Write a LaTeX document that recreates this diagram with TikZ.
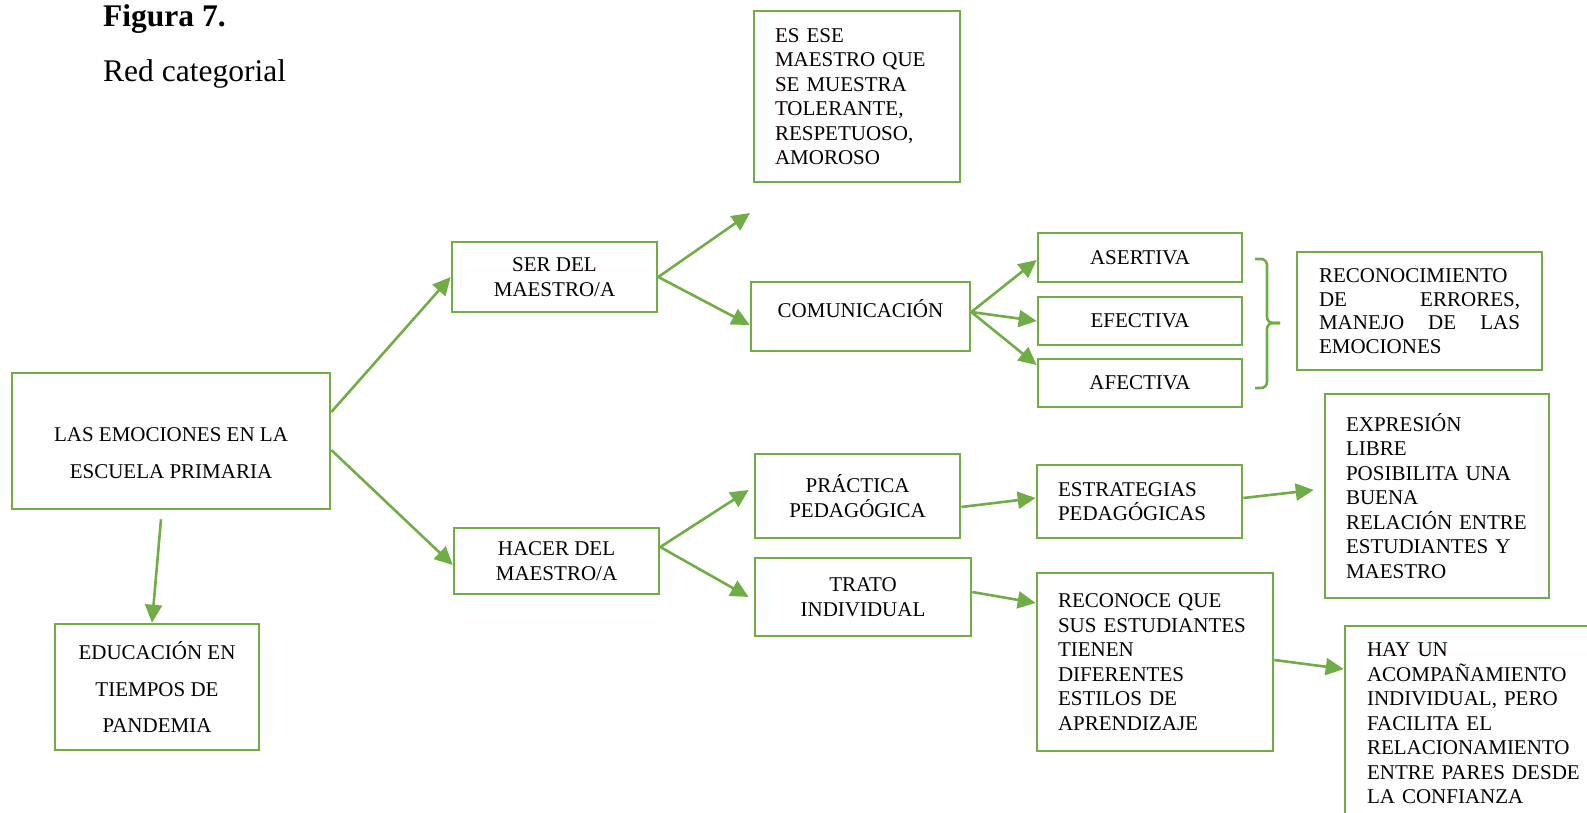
\documentclass[tikz,border=0pt]{standalone}
\usepackage{fontspec}
\setmainfont{Liberation Serif}
\usetikzlibrary{arrows.meta}
\definecolor{grn}{HTML}{70AD47}
\begin{document}
\begin{tikzpicture}[x=1pt,y=-1pt,
  box/.style={draw=grn, line width=2.6pt, inner sep=0pt, align=center,
    font=\fontsize{21}{24.5}\selectfont},
  lbox/.style={box, align=left},
  plain/.style={inner sep=0pt, align=center},
  arr/.style={draw=grn, line width=2.6pt, -{Triangle[length=18pt,width=17pt]}},
  brace/.style={draw=grn, line width=2.6pt, rounded corners=6pt}
]
\useasboundingbox (0,0) rectangle (1587,812);
\clip (0,0) rectangle (1587,812);

% title
\node[anchor=base west, inner sep=0pt, font=\fontsize{31.5}{37}\selectfont\bfseries] (fig) at (103,26) {Figura 7.};
\node[anchor=base west, inner sep=0pt, font=\fontsize{31.5}{37}\selectfont] (sub) at (103,81) {Red categorial};

% boxes
\node[box, minimum width=318pt, minimum height=136pt] (main) at (171,441) {};
\node[plain, font=\fontsize{21}{37}\selectfont] (maint) at (171,453.5) {LAS EMOCIONES EN LA\\ESCUELA PRIMARIA};
\node[box, minimum width=204pt, minimum height=126pt, font=\fontsize{21}{36.5}\selectfont] (edu) at (157,687) {EDUCACIÓN EN\\TIEMPOS DE\\PANDEMIA};
\node[box, minimum width=205pt, minimum height=70pt] (ser) at (554.5,277) {SER DEL\\MAESTRO/A};
\node[box, minimum width=205pt, minimum height=66pt] (hacer) at (556.5,561) {HACER DEL\\MAESTRO/A};
\node[lbox, minimum width=206pt, minimum height=171pt, text width=164pt] (esese) at (857,96.5) {ES~ESE\\MAESTRO~QUE\\SE~MUESTRA\\TOLERANTE,\\RESPETUOSO,\\AMOROSO};
\node[box, minimum width=219pt, minimum height=69pt, text height=13.9pt, text depth=11pt] (comm) at (860.5,316.5) {COMUNICACIÓN};
\node[box, minimum width=204pt, minimum height=49pt] (asert) at (1140,257.5) {ASERTIVA};
\node[box, minimum width=204pt, minimum height=48pt] (efec) at (1140,321) {EFECTIVA};
\node[box, minimum width=204pt, minimum height=48pt] (afec) at (1140,383) {AFECTIVA};
\node[lbox, minimum width=245pt, minimum height=118pt, text width=201pt, font=\fontsize{21}{23.7}\selectfont] (recon) at (1419.5,311) {RECONOCIMIENTO\\DE\hfill ERRORES,\\MANEJO\hfill DE\hfill LAS\\EMOCIONES};
\node[box, minimum width=205pt, minimum height=84pt] (prac) at (857.5,496) {PRÁCTICA\\PEDAGÓGICA};
\node[box, minimum width=216pt, minimum height=78pt] (trato) at (863,597) {TRATO\\INDIVIDUAL};
\node[lbox, minimum width=205pt, minimum height=73pt, text width=163pt] (estr) at (1139.5,501.5) {ESTRATEGIAS\\PEDAGÓGICAS};
\node[lbox, minimum width=236pt, minimum height=178pt, text width=194pt] (rcq) at (1155,662) {RECONOCE~QUE\\SUS~ESTUDIANTES\\TIENEN\\DIFERENTES\\ESTILOS~DE\\APRENDIZAJE};
\node[lbox, minimum width=224pt, minimum height=204pt, text width=182pt] (expr) at (1437,496) {EXPRESIÓN\\LIBRE\\POSIBILITA~UNA\\BUENA\\RELACIÓN~ENTRE\\ESTUDIANTES~Y\\MAESTRO};
\node[lbox, minimum width=260pt, minimum height=195pt, text width=216pt] (hay) at (1475,723.5) {HAY~UN\\ACOMPAÑAMIENTO\\INDIVIDUAL,~PERO\\FACILITA~EL\\RELACIONAMIENTO\\ENTRE~PARES~DESDE\\LA~CONFIANZA};

\coordinate (serfree) at (750,213);

% connectors
\draw[arr] ([yshift=29pt]main.east) -- (ser.west);
\draw[arr] ([yshift=-9pt]main.east) -- ([yshift=-4pt]hacer.west);
\draw[arr] ([xshift=-10pt,yshift=-9pt]main.south) -- ([xshift=-5pt]edu.north);
\draw[arr] (ser.east) -- (serfree);
\draw[arr] (ser.east) -- ([yshift=-8.5pt]comm.west);
\draw[arr] ([yshift=4.5pt]comm.east) -- ([yshift=-2.5pt]asert.west);
\draw[arr] ([yshift=4.5pt]comm.east) -- (efec.west);
\draw[arr] ([yshift=4.5pt]comm.east) -- ([yshift=18pt]afec.west);
\draw[arr] ([yshift=14pt]hacer.east) -- ([xshift=-5pt,yshift=6pt]prac.west);
\draw[arr] ([yshift=14pt]hacer.east) -- ([xshift=-5pt]trato.west);
\draw[arr] ([yshift=-11pt]prac.east) -- ([yshift=3.5pt]estr.west);
\draw[arr] ([yshift=5pt]trato.east) -- ([yshift=59pt]rcq.west);
\draw[arr] ([yshift=3.5pt]estr.east) -- ([xshift=-10pt,yshift=6pt]expr.west);
\draw[arr] ([yshift=2pt]rcq.east) -- ([yshift=54.5pt]hay.west);

% brace
\draw[brace] (1255,259) -- (1267,259) -- (1267,323) -- (1280,323);
\draw[brace] (1280,323) -- (1267,323) -- (1267,388) -- (1255,388);
\end{tikzpicture}
\end{document}
